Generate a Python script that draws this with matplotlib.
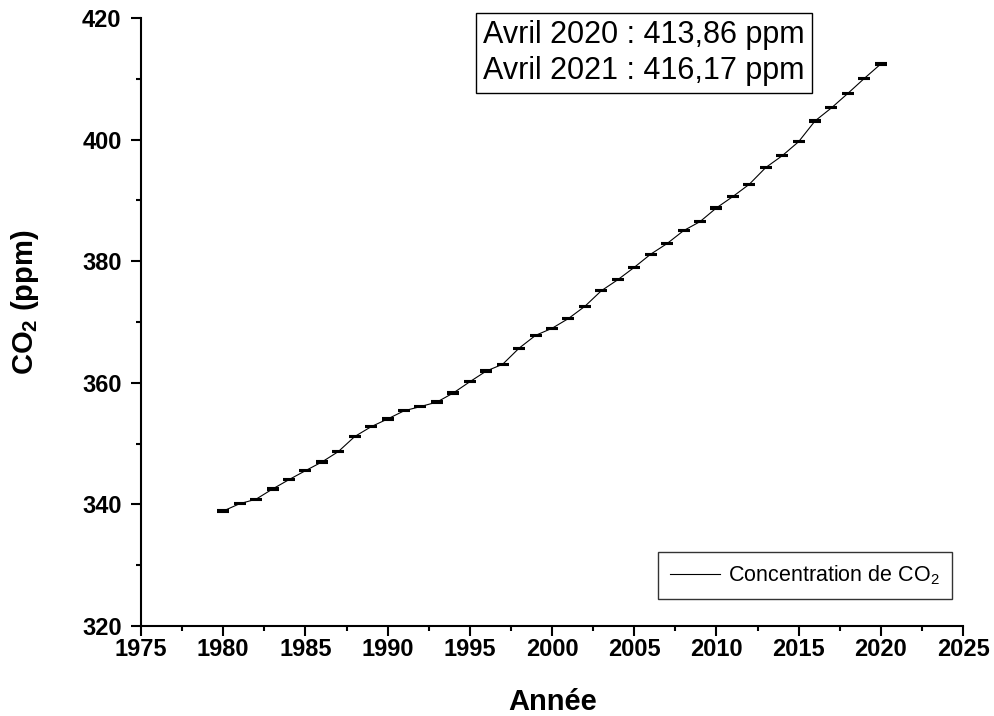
import numpy as np
import matplotlib.pyplot as plt
from matplotlib.ticker import MultipleLocator

plt.rcParams['font.family'] = ['Liberation Sans', 'DejaVu Sans']
plt.rcParams['mathtext.default'] = 'regular'

# global annual mean CO2 (ppm)
years = list(range(1980, 2021))
co2 = [338.91, 340.11, 340.86, 342.53, 344.07, 345.54, 346.97, 348.68, 351.16, 352.78,
       354.05, 355.39, 356.09, 356.83, 358.33, 360.17, 361.93, 363.05, 365.70, 367.80,
       368.96, 370.57, 372.58, 375.14, 376.95, 378.98, 381.15, 382.90, 385.02, 386.50,
       388.76, 390.63, 392.65, 395.40, 397.34, 399.65, 403.07, 405.22, 407.61, 410.07,
       412.44]
co2_err = [0.1] * len(years)

annot_lines = ['Avril 2020 : 413,86 ppm', 'Avril 2021 : 416,17 ppm']

fig = plt.figure(figsize=(9.94, 7.16), dpi=100)
ax = fig.add_axes([141 / 994, 90 / 716, 822 / 994, 608 / 716])

ax.plot(years, co2, color='black', linewidth=0.8, label='Concentration de CO$_2$')
ax.errorbar(years, co2, yerr=co2_err, fmt='none', ecolor='black', elinewidth=0.8,
            capsize=4.5, capthick=1.5)

ax.set_xlim(1975, 2025)
ax.set_ylim(320, 420)
ax.xaxis.set_major_locator(MultipleLocator(5))
ax.xaxis.set_minor_locator(MultipleLocator(2.5))
ax.yaxis.set_major_locator(MultipleLocator(20))
ax.yaxis.set_minor_locator(MultipleLocator(10))

for side in ['top', 'right']:
    ax.spines[side].set_visible(False)
for side in ['left', 'bottom']:
    ax.spines[side].set_linewidth(1.5)

ax.tick_params(which='major', direction='out', length=7, width=1.5)
ax.tick_params(which='minor', direction='out', length=3.5, width=1.5)
ax.tick_params(axis='x', which='major', pad=2)
ax.tick_params(axis='y', which='major', pad=7)
for lbl in ax.get_xticklabels() + ax.get_yticklabels():
    lbl.set_fontsize(17)
    lbl.set_fontweight('bold')

ax.set_xlabel('Année', fontsize=21, fontweight='bold', va='center')
ax.set_ylabel('CO$_2$ (ppm)', fontsize=21, fontweight='bold', va='center')
ax.xaxis.set_label_coords(553 / 994, 1 - 702 / 716, transform=fig.transFigure)
ax.yaxis.set_label_coords(25 / 994, 1 - 302 / 716, transform=fig.transFigure)

leg = ax.legend(loc='lower right', bbox_to_anchor=(952 / 994, 117 / 716),
                bbox_transform=fig.transFigure, fontsize=15.5, frameon=True,
                fancybox=False, edgecolor='black', handlelength=2.3,
                handletextpad=0.4, borderpad=0.55, borderaxespad=0)
leg.get_frame().set_linewidth(1.0)

fig.text(644 / 994, 1 - 53 / 716, '\n'.join(annot_lines), fontsize=22,
         ha='center', va='center', multialignment='left', linespacing=1.3,
         bbox=dict(boxstyle='square,pad=0.22', facecolor='white',
                   edgecolor='black', linewidth=1.0))

fig.savefig('out.png', dpi=100)
